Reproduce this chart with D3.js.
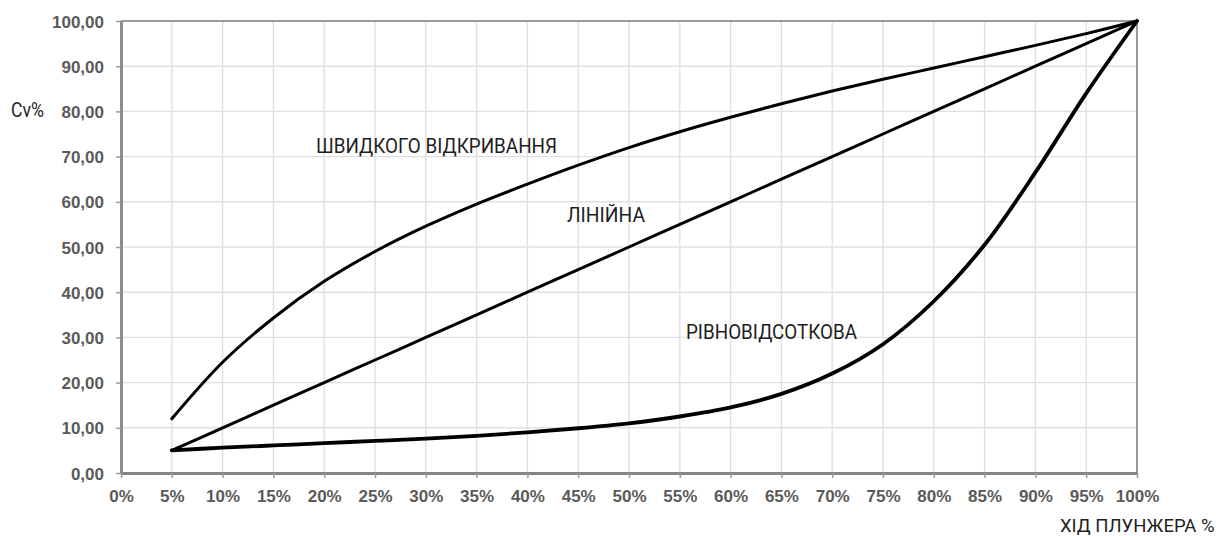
<!DOCTYPE html>
<html>
<head>
<meta charset="utf-8">
<script src="https://cdn.jsdelivr.net/npm/d3@7"></script>
<style>
  html, body { margin: 0; padding: 0; background: #ffffff; }
  svg { display: block; }
</style>
</head>
<body>
<svg id="chart" width="1223" height="536"></svg>
<script>
// ---- data ----
const strokePct = [5, 10, 15, 20, 25, 30, 35, 40, 45, 50, 55, 60, 65, 70, 75, 80, 85, 90, 95, 100];
const quickOpening = [12, 24.5, 34.3, 42.4, 49, 54.6, 59.5, 63.9, 68.1, 72, 75.5, 78.7, 81.7, 84.5, 87.1, 89.6, 92.1, 94.6, 97.2, 100];
const linear = [5, 10, 15, 20, 25, 30, 35, 40, 45, 50, 55, 60, 65, 70, 75, 80, 85, 90, 95, 100];
const equalPercent = [5, 5.6, 6.1, 6.6, 7.1, 7.6, 8.2, 9.0, 9.9, 11.0, 12.5, 14.5, 17.5, 22, 28.5, 38, 50.5, 66.5, 84, 100];
const xTicks = [0, 5, 10, 15, 20, 25, 30, 35, 40, 45, 50, 55, 60, 65, 70, 75, 80, 85, 90, 95, 100];
const yTicks = [0, 10, 20, 30, 40, 50, 60, 70, 80, 90, 100];
const seriesLabels = ["ШВИДКОГО ВІДКРИВАННЯ", "ЛІНІЙНА", "РІВНОВІДСОТКОВА"];
const yTitle = "Cv%";
const xTitle = "ХІД ПЛУНЖЕРА %";

// ---- layout ----
const svg = d3.select("#chart");
const pL = 121, pR = 1137, pT = 21, pB = 473;
const x = d3.scaleLinear().domain([0, 100]).range([pL, pR]);
const y = d3.scaleLinear().domain([0, 100]).range([pB, pT]);

const tickFont = "'Liberation Sans', Arial, sans-serif";
const labelFont = "Roboto, 'Noto Sans', sans-serif";

// grid
const grid = svg.append("g");
grid.selectAll("line.v").data(xTicks.slice(1, -1)).join("line")
  .attr("x1", d => x(d)).attr("x2", d => x(d))
  .attr("y1", pT).attr("y2", pB)
  .attr("stroke", "#e3dfdf").attr("stroke-width", 1.4);
grid.selectAll("line.h").data(yTicks.slice(1, -1)).join("line")
  .attr("x1", pL).attr("x2", pR)
  .attr("y1", d => y(d)).attr("y2", d => y(d))
  .attr("stroke", "#e3dfdf").attr("stroke-width", 1.4);

// frame (top & right)
svg.append("line").attr("x1", pL).attr("x2", pR).attr("y1", pT).attr("y2", pT)
  .attr("stroke", "#9a9a9a").attr("stroke-width", 2);
svg.append("line").attr("x1", pR).attr("x2", pR).attr("y1", pT).attr("y2", pB)
  .attr("stroke", "#9a9a9a").attr("stroke-width", 2);

// axes
const xAxis = d3.axisBottom(x).tickValues(xTicks).tickSize(5).tickSizeOuter(0)
  .tickFormat(d => d + "%");
const yAxis = d3.axisLeft(y).tickValues(yTicks).tickSize(5).tickSizeOuter(0)
  .tickFormat(d => d3.format(".2f")(d).replace(".", ","));

const gx = svg.append("g").attr("transform", `translate(0,${pB})`).call(xAxis);
const gy = svg.append("g").attr("transform", `translate(${pL},0)`).call(yAxis);
[gx, gy].forEach(g => {
  g.select(".domain").attr("stroke", "#858585").attr("stroke-width", 2.8);
  g.selectAll(".tick line").attr("stroke", "#9a9a9a").attr("stroke-width", 1.5);
  g.selectAll(".tick text")
    .attr("fill", "#5a5a5a")
    .style("font-family", tickFont)
    .style("font-weight", "bold")
    .style("font-size", "17px");
});
gx.selectAll(".tick text").attr("dy", "0").attr("y", 29);
gy.selectAll(".tick text").attr("x", -17).attr("dy", "0.36em");

// lines
const lineGen = d3.line().x(d => x(d[0])).y(d => y(d[1])).curve(d3.curveCatmullRom.alpha(0.5));
const series = [
  { vals: quickOpening, w: 3 },
  { vals: linear, w: 3 },
  { vals: equalPercent, w: 3.8 }
];
svg.append("g").selectAll("path").data(series).join("path")
  .attr("d", s => lineGen(strokePct.map((p, i) => [p, s.vals[i]])))
  .attr("fill", "none").attr("stroke", "#000").attr("stroke-width", s => s.w)
  .attr("stroke-linecap", "round").attr("stroke-linejoin", "round");

// annotations (condensed look: larger font squeezed to the reference width)
const ann = [
  { t: seriesLabels[0], x: 316, y: 153, w: 241, fs: 20.5 },
  { t: seriesLabels[1], x: 567, y: 222, w: 78, fs: 20.5 },
  { t: seriesLabels[2], x: 686, y: 339, w: 171, fs: 20.5 },
  { t: yTitle, x: 11, y: 117, w: 33, fs: 20 },
  { t: xTitle, x: 1060, y: 532, w: null, fs: 18.5 }
];
const annSel = svg.append("g").selectAll("text").data(ann).join("text")
  .attr("x", d => d.x).attr("y", d => d.y)
  .text(d => d.t)
  .attr("fill", "#1e1e1e")
  .style("font-family", labelFont)
  .style("font-size", d => d.fs + "px");
annSel.filter(d => d.w)
  .attr("textLength", d => d.w)
  .attr("lengthAdjust", "spacingAndGlyphs");
</script>
</body>
</html>
